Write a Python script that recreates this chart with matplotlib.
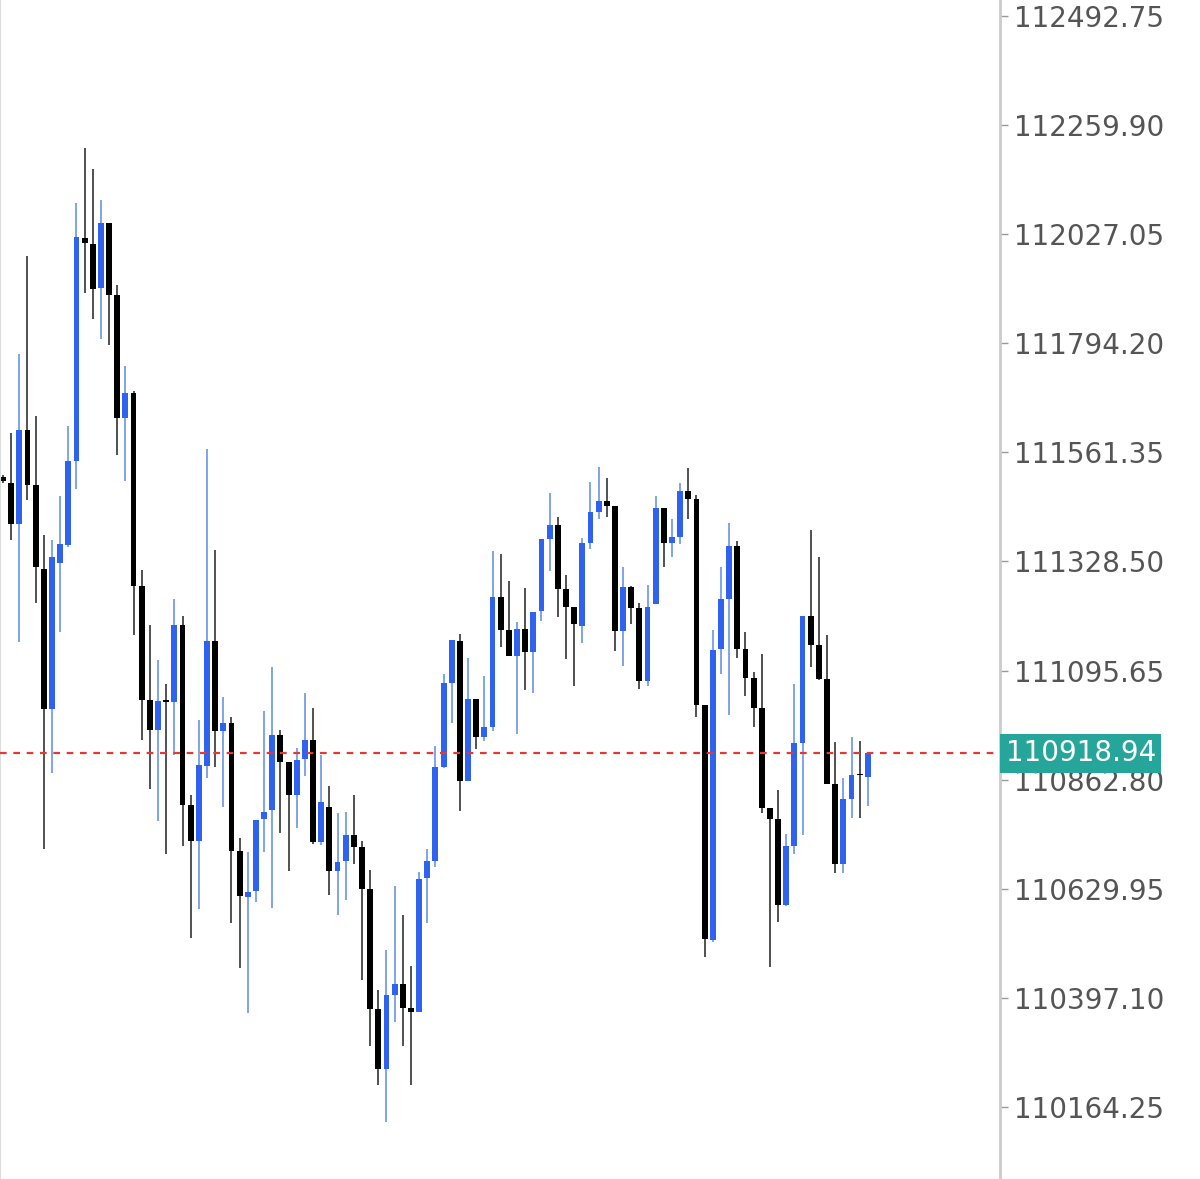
import numpy as np
import matplotlib
matplotlib.use('Agg')
from matplotlib import pyplot as plt

opens = [111509, 111496, 111409, 111609, 111492, 111313, 111014, 111325, 111364, 111543,
         112019, 112006, 111912, 112051, 111897, 111635, 111688, 111276, 111033, 110969,
         111031, 111029, 111193, 110809, 110732, 110892, 111159, 110967, 110984, 110711,
         110613, 110625, 110779, 110798, 110958, 110901, 110830, 110907, 110948, 110730,
         110805, 110668, 110689, 110745, 110719, 110630, 110374, 110245, 110403, 110427,
         110376, 110367, 110653, 110689, 110890, 111069, 111159, 110860, 111035, 110954,
         110975, 111253, 111182, 111127, 111185, 111135, 111223, 111377, 111406, 111270,
         111231, 111191, 111368, 111434, 111458, 111447, 111180, 111274, 111229, 111074,
         111238, 111443, 111368, 111381, 111479, 111462, 111022, 110521, 111142, 111249,
         111362, 111142, 111080, 111016, 110803, 110779, 110596, 110721, 110941, 111212,
         111150, 111078, 110854, 110683, 110822, 110873, 110869]
highs = [111513, 111603, 111771, 111981, 111639, 111385, 111374, 111468, 111618, 112094,
         112211, 112166, 112100, 112051, 111919, 111746, 111692, 111310, 111193, 111118,
         111067, 111249, 111212, 110830, 110990, 111569, 111353, 111039, 110997, 110738,
         110709, 110777, 111010, 111103, 110969, 110901, 110931, 111048, 111016, 110916,
         110849, 110792, 110794, 110830, 110732, 110670, 110414, 110499, 110636, 110574,
         110465, 110666, 110715, 110935, 111089, 111161, 111174, 111123, 111035, 111084,
         111351, 111345, 111287, 111200, 111272, 111221, 111377, 111475, 111424, 111300,
         111231, 111379, 111498, 111530, 111507, 111447, 111317, 111276, 111240, 111278,
         111468, 111443, 111419, 111496, 111528, 111470, 111022, 111182, 111317, 111411,
         111372, 111178, 111093, 111131, 110803, 110841, 110747, 111067, 111212, 111396,
         111338, 111172, 110943, 110867, 110954, 110946, 110918.94]
lows = [111496, 111374, 111157, 111460, 111240, 110715, 110877, 111178, 111360, 111483,
        111902, 111846, 111804, 111791, 111556, 111500, 111172, 110948, 110843, 110775,
        110704, 110916, 110721, 110525, 110587, 110867, 110890, 110805, 110557, 110461,
        110365, 110602, 110709, 110589, 110749, 110668, 110760, 110871, 110726, 110724,
        110617, 110574, 110606, 110683, 110435, 110295, 110211, 110132, 110346, 110295,
        110211, 110367, 110557, 110677, 110888, 110984, 110796, 110860, 110928, 110946,
        110967, 111146, 111127, 110960, 111054, 111048, 111202, 111308, 111210, 111120,
        111063, 111155, 111355, 111419, 111424, 111138, 111106, 111195, 111056, 111063,
        111238, 111317, 111338, 111366, 111419, 110997, 110484, 110516, 111089, 111001,
        111123, 111042, 110975, 110792, 110463, 110559, 110594, 110704, 110745, 111103,
        111076, 110854, 110664, 110664, 110781, 110781, 110807]
closes = [111500, 111409, 111609, 111492, 111317, 111014, 111338, 111366, 111543, 112021,
          112008, 111910, 112051, 111897, 111635, 111688, 111276, 111033, 110969, 111031,
          111029, 111193, 110809, 110732, 110894, 111159, 110967, 110984, 110711, 110615,
          110623, 110777, 110794, 110958, 110901, 110830, 110905, 110948, 110730, 110815,
          110668, 110687, 110745, 110719, 110630, 110374, 110245, 110403, 110427, 110376,
          110367, 110651, 110689, 110890, 111069, 111161, 110860, 111035, 110954, 110975,
          111253, 111182, 111127, 111185, 111135, 111221, 111377, 111406, 111270, 111231,
          111195, 111368, 111434, 111458, 111447, 111180, 111274, 111229, 111074, 111231,
          111443, 111368, 111381, 111479, 111462, 111022, 110523, 111140, 111249, 111362,
          111142, 111080, 111016, 110803, 110779, 110596, 110721, 110941, 111212, 111150,
          111078, 110854, 110683, 110822, 110873, 110872, 110918.94]
tick_values = [112492.75, 112259.90, 112027.05, 111794.20, 111561.35, 111328.50,
               111095.65, 110862.80, 110629.95, 110397.10, 110164.25]
last_price = 110918.94

up_body = '#2f62ee'
up_wick = '#6a93ee'
down_body = '#000000'
down_wick = '#333333'

o = np.array(opens); h = np.array(highs); l = np.array(lows); c = np.array(closes)
x = np.arange(len(o))
up = c >= o

fig = plt.figure(figsize=(12, 11.79), dpi=100)
ax = fig.add_axes([0, 0, 1000 / 1200, 1])

ax.vlines(x[up], l[up], h[up], color=up_wick, lw=1.2, zorder=1)
ax.vlines(x[~up], l[~up], h[~up], color=down_wick, lw=1.2, zorder=1)
bottom = np.minimum(o, c)
height = np.maximum(np.abs(c - o), 3)
ax.bar(x[up], height[up], bottom=bottom[up], width=0.72, color=up_body, lw=0, zorder=2)
ax.bar(x[~up], height[~up], bottom=bottom[~up], width=0.72, color=down_body, lw=0, zorder=2)

ax.axhline(last_price, color='#e53935', lw=1.6, ls=(0, (3, 3)), zorder=3)

ax.set_xlim(-0.37, 122.2)
ax.set_ylim(110010.5, 112526.9)
ax.yaxis.tick_right()
ax.set_yticks(tick_values)
ax.set_yticklabels([f'{v:.2f}' for v in tick_values], fontsize=20, color='#555555')
ax.tick_params(axis='y', length=6, width=1, color='#999999', pad=4)
ax.set_xticks([])
for s in ['top', 'bottom']:
    ax.spines[s].set_visible(False)
ax.spines['right'].set_color('#cccccc')
ax.spines['right'].set_linewidth(2)
ax.spines['left'].set_color('#dddddd')
ax.spines['left'].set_linewidth(1.5)

ax.annotate(f'{last_price:.2f}', xy=(1.0, last_price), xycoords=('axes fraction', 'data'),
            xytext=(4, 0), textcoords='offset points', va='center', ha='left',
            fontsize=20, color='white',
            bbox=dict(boxstyle='square,pad=0.2', fc='#26a69a', ec='none'),
            annotation_clip=False)

fig.savefig('out.png', dpi=100)
